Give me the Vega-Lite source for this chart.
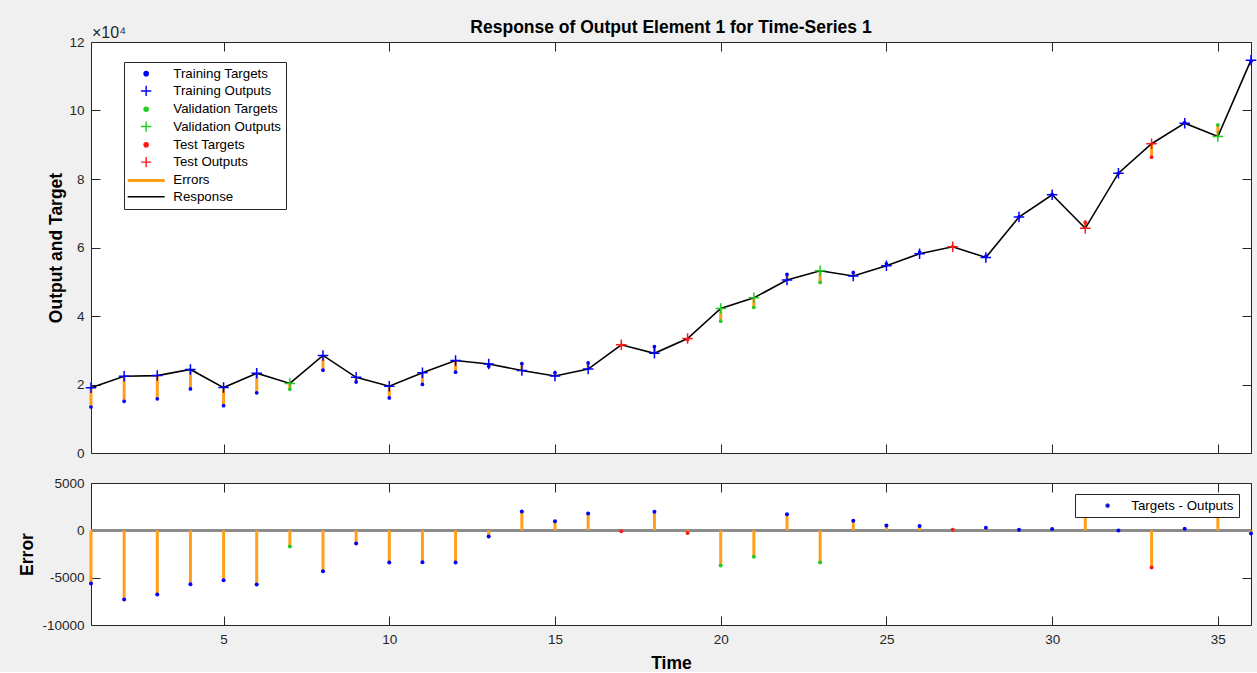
{
  "$schema": "https://vega.github.io/schema/vega-lite/v6.json",
  "background": "#f0f0f0",
  "padding": {"left": 17, "top": 18, "right": 0, "bottom": 0},
  "config": {
    "font": "Liberation Sans",
    "view": {"fill": "white", "stroke": "#262626", "strokeWidth": 1},
    "axis": {"domain": false, "grid": false, "tickColor": "#262626", "tickSize": -9, "labelColor": "#262626", "labelFontSize": 13.5, "labelFont": "Liberation Sans", "titleFont": "Liberation Sans", "titleFontSize": 17.5, "titleFontWeight": "bold", "titleColor": "#000000"},
    "legend": {"labelFont": "Liberation Sans", "labelFontSize": 13.3, "labelColor": "#000000"}
  },
  "datasets": {
    "ts": [
      {"t": 1, "set": "Training", "output": 19050, "target": 13430, "error": -5620, "tgt_series": "Training Targets", "out_series": "Training Outputs"},
      {"t": 2, "set": "Training", "output": 22400, "target": 15090, "error": -7310, "tgt_series": "Training Targets", "out_series": "Training Outputs"},
      {"t": 3, "set": "Training", "output": 22600, "target": 15810, "error": -6790, "tgt_series": "Training Targets", "out_series": "Training Outputs"},
      {"t": 4, "set": "Training", "output": 24400, "target": 18710, "error": -5690, "tgt_series": "Training Targets", "out_series": "Training Outputs"},
      {"t": 5, "set": "Training", "output": 19100, "target": 13820, "error": -5280, "tgt_series": "Training Targets", "out_series": "Training Outputs"},
      {"t": 6, "set": "Training", "output": 23300, "target": 17580, "error": -5720, "tgt_series": "Training Targets", "out_series": "Training Outputs"},
      {"t": 7, "set": "Validation", "output": 20300, "target": 18580, "error": -1720, "tgt_series": "Validation Targets", "out_series": "Validation Outputs"},
      {"t": 8, "set": "Training", "output": 28500, "target": 24190, "error": -4310, "tgt_series": "Training Targets", "out_series": "Training Outputs"},
      {"t": 9, "set": "Training", "output": 22100, "target": 20720, "error": -1380, "tgt_series": "Training Targets", "out_series": "Training Outputs"},
      {"t": 10, "set": "Training", "output": 19500, "target": 16090, "error": -3410, "tgt_series": "Training Targets", "out_series": "Training Outputs"},
      {"t": 11, "set": "Training", "output": 23400, "target": 20020, "error": -3380, "tgt_series": "Training Targets", "out_series": "Training Outputs"},
      {"t": 12, "set": "Training", "output": 27000, "target": 23590, "error": -3410, "tgt_series": "Training Targets", "out_series": "Training Outputs"},
      {"t": 13, "set": "Training", "output": 26000, "target": 25345, "error": -655, "tgt_series": "Training Targets", "out_series": "Training Outputs"},
      {"t": 14, "set": "Training", "output": 24100, "target": 26100, "error": 2000, "tgt_series": "Training Targets", "out_series": "Training Outputs"},
      {"t": 15, "set": "Training", "output": 22500, "target": 23465, "error": 965, "tgt_series": "Training Targets", "out_series": "Training Outputs"},
      {"t": 16, "set": "Training", "output": 24500, "target": 26290, "error": 1790, "tgt_series": "Training Targets", "out_series": "Training Outputs"},
      {"t": 17, "set": "Test", "output": 31600, "target": 31500, "error": -100, "tgt_series": "Test Targets", "out_series": "Test Outputs"},
      {"t": 18, "set": "Training", "output": 29100, "target": 31070, "error": 1970, "tgt_series": "Training Targets", "out_series": "Training Outputs"},
      {"t": 19, "set": "Test", "output": 33400, "target": 33120, "error": -280, "tgt_series": "Test Targets", "out_series": "Test Outputs"},
      {"t": 20, "set": "Validation", "output": 42200, "target": 38480, "error": -3720, "tgt_series": "Validation Targets", "out_series": "Validation Outputs"},
      {"t": 21, "set": "Validation", "output": 45300, "target": 42510, "error": -2790, "tgt_series": "Validation Targets", "out_series": "Validation Outputs"},
      {"t": 22, "set": "Training", "output": 50500, "target": 52190, "error": 1690, "tgt_series": "Training Targets", "out_series": "Training Outputs"},
      {"t": 23, "set": "Validation", "output": 53200, "target": 49790, "error": -3410, "tgt_series": "Validation Targets", "out_series": "Validation Outputs"},
      {"t": 24, "set": "Training", "output": 51700, "target": 52700, "error": 1000, "tgt_series": "Training Targets", "out_series": "Training Outputs"},
      {"t": 25, "set": "Training", "output": 54700, "target": 55220, "error": 520, "tgt_series": "Training Targets", "out_series": "Training Outputs"},
      {"t": 26, "set": "Training", "output": 58200, "target": 58650, "error": 450, "tgt_series": "Training Targets", "out_series": "Training Outputs"},
      {"t": 27, "set": "Test", "output": 60200, "target": 60270, "error": 70, "tgt_series": "Test Targets", "out_series": "Test Outputs"},
      {"t": 28, "set": "Training", "output": 57100, "target": 57380, "error": 280, "tgt_series": "Training Targets", "out_series": "Training Outputs"},
      {"t": 29, "set": "Training", "output": 68900, "target": 68970, "error": 70, "tgt_series": "Training Targets", "out_series": "Training Outputs"},
      {"t": 30, "set": "Training", "output": 75400, "target": 75540, "error": 140, "tgt_series": "Training Targets", "out_series": "Training Outputs"},
      {"t": 31, "set": "Test", "output": 65600, "target": 67400, "error": 1800, "tgt_series": "Test Targets", "out_series": "Test Outputs"},
      {"t": 32, "set": "Training", "output": 81700, "target": 81670, "error": -30, "tgt_series": "Training Targets", "out_series": "Training Outputs"},
      {"t": 33, "set": "Test", "output": 90300, "target": 86370, "error": -3930, "tgt_series": "Test Targets", "out_series": "Test Outputs"},
      {"t": 34, "set": "Training", "output": 96300, "target": 96470, "error": 170, "tgt_series": "Training Targets", "out_series": "Training Outputs"},
      {"t": 35, "set": "Validation", "output": 92400, "target": 95800, "error": 3400, "tgt_series": "Validation Targets", "out_series": "Validation Outputs"},
      {"t": 36, "set": "Training", "output": 114700, "target": 114360, "error": -340, "tgt_series": "Training Targets", "out_series": "Training Outputs"}
    ]
  },
  "resolve": {"scale": {"color": "independent", "fill": "independent"}, "legend": {"color": "independent", "fill": "independent"}},
  "spacing": 15,
  "vconcat": [
    {
      "width": 1160,
      "height": 411,
      "data": {"name": "ts"},
      "title": {"text": "Response of Output Element 1 for Time-Series 1", "frame": "group", "anchor": "middle", "fontSize": 17.5, "fontWeight": "bold", "color": "#000000", "font": "Liberation Sans", "offset": -11},
      "resolve": {"scale": {"x": "independent", "y": "independent"}},
      "layer": [
        {
          "layer": [
            {
              "mark": {"type": "rule", "strokeWidth": 3},
              "encoding": {
                "x": {"field": "t", "type": "quantitative", "scale": {"domain": [1, 36], "nice": false, "zero": false}, "axis": {"orient": "bottom", "values": [5, 10, 15, 20, 25, 30, 35], "labels": false, "title": null}},
                "y": {"field": "output", "type": "quantitative", "scale": {"domain": [0, 120000], "nice": false}, "axis": {"orient": "left", "values": [0, 20000, 40000, 60000, 80000, 100000, 120000], "labelExpr": "datum.value / 10000", "labelPadding": 16, "title": "Output and Target", "titleX": -35, "titleBaseline": "middle"}},
                "y2": {"field": "target"},
                "color": {"datum": "Errors", "type": "nominal", "title": null, "scale": {"domain": ["Training Targets", "Training Outputs", "Validation Targets", "Validation Outputs", "Test Targets", "Test Outputs", "Errors", "Response"], "range": ["#0000ff", "#0000ff", "#22cc22", "#22cc22", "#ff1a1a", "#ff1a1a", "#ff9f1a", "#000000"]},
                  "legend": {"title": null, "orient": "none", "legendX": 33, "legendY": 20, "fillColor": "white", "strokeColor": "#262626", "padding": 5, "rowPadding": 2.3, "labelOffset": 31, "symbolSize": 144, "labelLimit": 300,
                    "encode": {"symbols": {"update": {
                      "shape": {"signal": "test(/Targets/, datum.value) ? 'M1.4,0A0.35,0.35,0,1,1,2.1,0A0.35,0.35,0,1,1,1.4,0Z' : test(/Outputs/, datum.value) ? 'M0.9,0H2.6M1.75,-0.85V0.85' : 'M-1.33,0H4.83'"},
                      "strokeWidth": {"signal": "datum.value === 'Errors' ? 3 : 1.4"},
                      "stroke": {"signal": "test(/Training/, datum.value) ? '#0000ff' : test(/Validation/, datum.value) ? '#22cc22' : test(/Test/, datum.value) ? '#ff1a1a' : datum.value === 'Errors' ? '#ff9f1a' : '#333333'"},
                      "fill": {"signal": "test(/Targets/, datum.value) ? (test(/Training/, datum.value) ? '#0000ff' : test(/Validation/, datum.value) ? '#22cc22' : '#ff1a1a') : 'transparent'"},
                      "opacity": {"value": 1}
                    }}}}
                }
              }
            },
            {
              "mark": {"type": "line", "color": "#1a1a1a", "strokeWidth": 1.6},
              "encoding": {
                "x": {"field": "t", "type": "quantitative"},
                "y": {"field": "output", "type": "quantitative"},
                "color": {"datum": "Response", "type": "nominal", "title": null}
              }
            },
            {
              "mark": {"type": "point", "filled": true, "size": 14, "shape": "circle", "opacity": 1},
              "encoding": {
                "x": {"field": "t", "type": "quantitative"},
                "y": {"field": "target", "type": "quantitative"},
                "color": {"field": "tgt_series", "type": "nominal", "title": null}
              }
            },
            {
              "mark": {"type": "point", "filled": false, "size": 110, "shape": "M-1,0H1M0,-1V1", "strokeWidth": 1.5, "opacity": 1},
              "encoding": {
                "x": {"field": "t", "type": "quantitative"},
                "y": {"field": "output", "type": "quantitative"},
                "color": {"field": "out_series", "type": "nominal", "title": null}
              }
            },
            {
              "data": {"values": [{"label": "×10⁴"}]},
              "mark": {"type": "text", "align": "left", "baseline": "bottom", "dy": -1, "dx": 1, "fontSize": 16, "color": "#262626"},
              "encoding": {
                "x": {"datum": 1, "type": "quantitative"},
                "y": {"datum": 120000, "type": "quantitative"},
                "text": {"field": "label"}
              }
            }
          ]
        },
        {
          "mark": {"type": "rule", "opacity": 0},
          "encoding": {
            "x": {"field": "t", "type": "quantitative", "scale": {"domain": [1, 36], "nice": false, "zero": false}, "axis": {"orient": "top", "values": [5, 10, 15, 20, 25, 30, 35], "labels": false, "title": null}},
            "y": {"field": "output", "type": "quantitative", "scale": {"domain": [0, 120000], "nice": false}, "axis": {"orient": "right", "values": [0, 20000, 40000, 60000, 80000, 100000, 120000], "labels": false, "title": null}}
          }
        }
      ]
    },
    {
      "width": 1160,
      "height": 142,
      "data": {"name": "ts"},
      "resolve": {"scale": {"x": "independent", "y": "independent"}},
      "layer": [
        {
          "layer": [
            {
              "mark": {"type": "rule", "strokeWidth": 2.5},
              "encoding": {
                "y": {"datum": 0, "type": "quantitative", "scale": {"domain": [-10000, 5000], "nice": false}, "axis": {"orient": "left", "values": [-10000, -5000, 0, 5000], "labelExpr": "'' + datum.value", "labelPadding": 16, "title": "Error", "titleX": -64, "titleBaseline": "middle"}},
                "color": {"datum": "Targets - Outputs", "type": "nominal", "title": null, "scale": {"domain": ["Targets - Outputs"], "range": ["#8c8c8c"]},
                  "legend": {"title": null, "orient": "none", "legendX": 984, "legendY": 11, "fillColor": "white", "strokeColor": "#262626", "padding": 5, "labelOffset": 38, "symbolSize": 144, "labelLimit": 300,
                    "encode": {"symbols": {"update": {
                      "shape": {"value": "M3.15,0A0.35,0.35,0,1,1,3.85,0A0.35,0.35,0,1,1,3.15,0Z"},
                      "fill": {"value": "#0000ff"},
                      "stroke": {"value": "#0000ff"},
                      "strokeWidth": {"value": 1},
                      "opacity": {"value": 1}
                    }}}}
                }
              }
            },
            {
              "mark": {"type": "rule", "color": "#ff9f1a", "strokeWidth": 3},
              "encoding": {
                "x": {"field": "t", "type": "quantitative", "scale": {"domain": [1, 36], "nice": false, "zero": false}, "axis": {"orient": "bottom", "values": [5, 10, 15, 20, 25, 30, 35], "labelPadding": 16, "title": "Time", "titleY": 38, "titleBaseline": "middle"}},
                "y": {"field": "error", "type": "quantitative"},
                "y2": {"datum": 0}
              }
            },
            {
              "mark": {"type": "point", "filled": true, "size": 16, "opacity": 1, "shape": "circle"},
              "encoding": {
                "x": {"field": "t", "type": "quantitative"},
                "y": {"field": "error", "type": "quantitative"},
                "fill": {"field": "tgt_series", "type": "nominal", "scale": {"domain": ["Training Targets", "Validation Targets", "Test Targets"], "range": ["#0000ff", "#22cc22", "#ff1a1a"]}, "legend": null}
              }
            }
          ]
        },
        {
          "mark": {"type": "rule", "opacity": 0},
          "encoding": {
            "x": {"field": "t", "type": "quantitative", "scale": {"domain": [1, 36], "nice": false, "zero": false}, "axis": {"orient": "top", "values": [5, 10, 15, 20, 25, 30, 35], "labels": false, "title": null}},
            "y": {"field": "error", "type": "quantitative", "scale": {"domain": [-10000, 5000], "nice": false}, "axis": {"orient": "right", "values": [-10000, -5000, 0, 5000], "labels": false, "title": null}}
          }
        }
      ]
    }
  ]
}
